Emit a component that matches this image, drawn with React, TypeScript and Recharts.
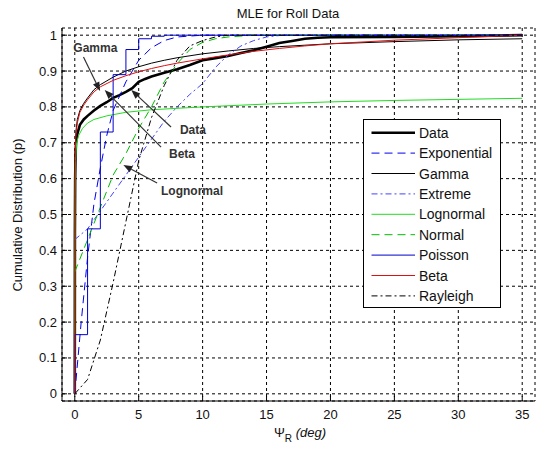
import React from "react";
import {
  LineChart,
  Line,
  XAxis,
  YAxis,
  CartesianGrid,
  ReferenceLine,
  ReferenceDot,
} from "recharts";

// tick labels
const xTicks = [0, 5, 10, 15, 20, 25, 30, 35];
const yTicks = [0, 0.1, 0.2, 0.3, 0.4, 0.5, 0.6, 0.7, 0.8, 0.9, 1];

// empirical data (thick black)
const dataX = [0, 0.01, 0.03, 0.06, 0.1, 0.2, 0.4, 0.7, 1, 1.5, 2, 2.5, 3, 3.5, 4, 4.5, 5, 5.5, 6, 7, 8, 9, 10, 11, 12, 13, 14, 15, 16, 17, 18, 19, 20, 25, 30, 35];
const dataY = [0, 0.45, 0.6, 0.67, 0.7, 0.725, 0.75, 0.765, 0.775, 0.79, 0.803, 0.813, 0.825, 0.833, 0.842, 0.852, 0.87, 0.878, 0.885, 0.895, 0.905, 0.917, 0.93, 0.936, 0.942, 0.95, 0.958, 0.968, 0.978, 0.984, 0.99, 0.993, 0.994, 0.995, 0.997, 1.0];

const expX = [0, 0.25, 0.5, 1, 1.5, 2, 2.5, 3, 4, 5, 6, 7, 8, 10, 35];
const expY = [0, 0.1, 0.2, 0.38, 0.53, 0.63, 0.72, 0.79, 0.87, 0.93, 0.965, 0.985, 0.995, 1.0, 1.0];

const smoothX = [0, 0.01, 0.03, 0.06, 0.1, 0.2, 0.4, 0.7, 1, 1.5, 2, 3, 4, 5, 6, 7, 8, 10, 12, 14, 16, 18, 20, 25, 30, 35];
const gammaY = [0, 0.5, 0.63, 0.7, 0.735, 0.765, 0.79, 0.81, 0.825, 0.848, 0.862, 0.883, 0.9, 0.912, 0.922, 0.93, 0.937, 0.948, 0.956, 0.963, 0.968, 0.972, 0.976, 0.982, 0.987, 0.99];
const betaY = [0, 0.58, 0.66, 0.7, 0.725, 0.755, 0.785, 0.805, 0.82, 0.842, 0.856, 0.874, 0.887, 0.898, 0.907, 0.915, 0.922, 0.934, 0.945, 0.955, 0.963, 0.97, 0.976, 0.986, 0.993, 1.0];

const extremeX = [0, 1, 2, 3, 4, 5, 6, 7, 8, 9, 10, 11, 12, 13, 14, 15, 16, 18, 35];
const extremeY = [0.43, 0.46, 0.51, 0.56, 0.61, 0.66, 0.71, 0.76, 0.8, 0.835, 0.865, 0.91, 0.945, 0.97, 0.985, 0.995, 0.999, 1.0, 1.0];

const lognX = [0, 0.02, 0.05, 0.15, 0.3, 0.6, 1, 1.5, 2.5, 4, 6, 10, 15, 20, 25, 30, 35];
const lognY = [0, 0.55, 0.65, 0.7, 0.72, 0.74, 0.755, 0.765, 0.775, 0.785, 0.792, 0.8, 0.808, 0.814, 0.818, 0.821, 0.824];

const normX = [0, 1, 2, 3, 4, 5, 6, 7, 8, 9, 10, 11, 12, 14, 35];
const normY = [0.34, 0.43, 0.52, 0.61, 0.67, 0.74, 0.8, 0.87, 0.92, 0.96, 0.98, 0.99, 0.995, 1.0, 1.0];

const poisX = [0, 0, 1, 2, 3, 4, 5, 6, 7, 35];
const poisY = [0, 0.165, 0.46, 0.73, 0.89, 0.96, 0.99, 0.997, 1.0, 1.0];

const raylX = [0, 1, 2, 3, 4, 5, 6, 7, 8, 9, 10, 11, 12, 35];
const raylY = [0, 0.04, 0.15, 0.31, 0.48, 0.65, 0.77, 0.86, 0.93, 0.97, 0.985, 0.995, 1.0, 1.0];

// annotations: label, text position, arrow start, arrow head
const noteNames = ["Gamma", "Data", "Beta", "Lognormal"];
const noteTextX = [1.61, 9.24, 8.39, 9.17];
const noteTextY = [0.967, 0.738, 0.669, 0.566];
const noteFromX = [0.68, 7.53, 6.75, 6.44];
const noteFromY = [0.939, 0.744, 0.688, 0.588];
const noteToX = [1.98, 4.42, 2.34, 3.8];
const noteToY = [0.844, 0.847, 0.847, 0.638];

const toPoints = (xs: number[], ys: number[]) => xs.map((x, i) => ({ x, y: ys[i] }));

const series = [
  { name: "Data", pts: toPoints(dataX, dataY), color: "#000000", width: 2.6, dash: undefined, step: false },
  { name: "Exponential", pts: toPoints(expX, expY), color: "#0000ee", width: 1, dash: "8 5", step: false },
  { name: "Gamma", pts: toPoints(smoothX, gammaY), color: "#000000", width: 1, dash: undefined, step: false },
  { name: "Extreme", pts: toPoints(extremeX, extremeY), color: "#4444ff", width: 1, dash: "6 3 2 3", step: false },
  { name: "Lognormal", pts: toPoints(lognX, lognY), color: "#22dd22", width: 1, dash: undefined, step: false },
  { name: "Normal", pts: toPoints(normX, normY), color: "#00bb00", width: 1, dash: "8 5", step: false },
  { name: "Poisson", pts: toPoints(poisX, poisY), color: "#0000cc", width: 1, dash: undefined, step: true },
  { name: "Beta", pts: toPoints(smoothX, betaY), color: "#dd1111", width: 1, dash: undefined, step: false },
  { name: "Rayleigh", pts: toPoints(raylX, raylY), color: "#000000", width: 1, dash: "6 3 2 3", step: false },
];

const FONT = "'Liberation Sans', Arial, sans-serif";

const BottomTick = (p: any) => (
  <g>
    <line x1={p.x} y1={p.y} x2={p.x} y2={p.y - 5} stroke="#000" />
    <text x={p.x} y={p.y + 18} textAnchor="middle" fontSize={13} fontFamily={FONT} fill="#111">
      {p.payload.value}
    </text>
  </g>
);
const LeftTick = (p: any) => (
  <g>
    <line x1={p.x} y1={p.y} x2={p.x + 5} y2={p.y} stroke="#000" />
    <text x={p.x - 5} y={p.y + 4.5} textAnchor="end" fontSize={13} fontFamily={FONT} fill="#111">
      {p.payload.value}
    </text>
  </g>
);
const TopTick = (p: any) => <line x1={p.x} y1={p.y} x2={p.x} y2={p.y + 5} stroke="#000" />;
const RightTick = (p: any) => <line x1={p.x} y1={p.y} x2={p.x - 5} y2={p.y} stroke="#000" />;

const Arrow = (p: any) => {
  const { x1, y1, x2, y2 } = p;
  const a = Math.atan2(y2 - y1, x2 - x1);
  const bx = x2 - 9 * Math.cos(a);
  const by = y2 - 9 * Math.sin(a);
  const nx = -Math.sin(a) * 3.5;
  const ny = Math.cos(a) * 3.5;
  return (
    <g>
      <line x1={x1} y1={y1} x2={bx} y2={by} stroke="#333" strokeWidth={1.2} />
      <polygon points={`${x2},${y2} ${bx + nx},${by + ny} ${bx - nx},${by - ny}`} fill="#222" />
    </g>
  );
};

export default function App() {
  return (
    <div style={{ position: "absolute", left: 0, top: 0, width: 539, height: 449, background: "#fff" }}>
      <LineChart width={539} height={449} margin={{ top: 28, right: 4, bottom: 0, left: 0 }}>
        <CartesianGrid stroke="#000" strokeDasharray="3 3" strokeWidth={1} />
        <XAxis
          xAxisId={0}
          dataKey="x"
          type="number"
          domain={[-1, 36]}
          ticks={xTicks}
          allowDataOverflow
          height={48}
          tickSize={0}
          tickMargin={0}
          tick={BottomTick}
          axisLine={{ stroke: "#000" }}
        />
        <XAxis
          xAxisId="top"
          orientation="top"
          type="number"
          domain={[-1, 36]}
          ticks={xTicks}
          allowDataOverflow
          height={0}
          tickSize={0}
          tickMargin={0}
          tick={TopTick}
          axisLine={{ stroke: "#000" }}
        />
        <YAxis
          yAxisId={0}
          type="number"
          domain={[-0.02, 1.02]}
          ticks={yTicks}
          allowDataOverflow
          width={62}
          tickSize={0}
          tickMargin={0}
          tick={LeftTick}
          axisLine={{ stroke: "#000" }}
        />
        <YAxis
          yAxisId="right"
          orientation="right"
          type="number"
          domain={[-0.02, 1.02]}
          ticks={yTicks}
          allowDataOverflow
          width={0}
          tickSize={0}
          tickMargin={0}
          tick={RightTick}
          axisLine={{ stroke: "#000" }}
        />
        {series.map((s) => (
          <Line
            key={s.name}
            data={s.pts}
            dataKey="y"
            name={s.name}
            type={s.step ? "stepAfter" : "linear"}
            stroke={s.color}
            strokeWidth={s.width}
            strokeDasharray={s.dash}
            dot={false}
            activeDot={false}
            isAnimationActive={false}
          />
        ))}
        {noteNames.map((n, i) => (
          <ReferenceLine
            key={"a" + n}
            segment={[
              { x: noteFromX[i], y: noteFromY[i] },
              { x: noteToX[i], y: noteToY[i] },
            ]}
            ifOverflow="visible"
            shape={Arrow}
          />
        ))}
        {noteNames.map((n, i) => (
          <ReferenceDot
            key={"t" + n}
            x={noteTextX[i]}
            y={noteTextY[i]}
            r={0}
            ifOverflow="visible"
            shape={(p: any) => (
              <text
                x={p.cx}
                y={p.cy + 4.5}
                textAnchor="middle"
                fontSize={12}
                fontWeight="bold"
                fontFamily={FONT}
                fill="#333"
              >
                {n}
              </text>
            )}
          />
        ))}
      </LineChart>

      <svg
        width={539}
        height={449}
        style={{ position: "absolute", left: 0, top: 0, pointerEvents: "none" }}
        fontFamily={FONT}
      >
        <text x={288} y={18} textAnchor="middle" fontSize={13} fill="#111">
          MLE for Roll Data
        </text>
        <text
          x={22}
          y={215}
          textAnchor="middle"
          fontSize={13}
          fill="#111"
          transform="rotate(-90 22 215)"
        >
          Cumulative Distribution (p)
        </text>
        <text x={300} y={437} textAnchor="middle" fontSize={13} fill="#111">
          <tspan>Ψ</tspan>
          <tspan dy={5} fontSize={10}>R</tspan>
          <tspan dy={-5} fontStyle="italic"> (deg)</tspan>
        </text>

        <g transform="translate(363,119)">
          <rect x={0.5} y={0.5} width={137} height={188} fill="#fff" stroke="#000" />
          {series.map((s, i) => (
            <g key={s.name} transform={`translate(0,${13.7 + i * 20.4})`}>
              <line
                x1={8.5}
                x2={52}
                y1={0}
                y2={0}
                stroke={s.color}
                strokeWidth={s.width}
                strokeDasharray={s.dash}
              />
              <text x={56} y={5} fontSize={14} fill="#111">
                {s.name}
              </text>
            </g>
          ))}
        </g>
      </svg>
    </div>
  );
}
